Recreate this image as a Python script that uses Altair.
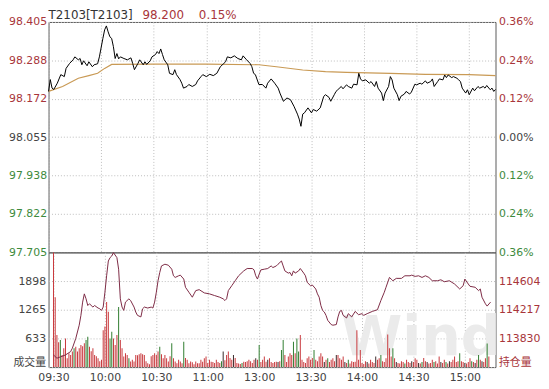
import altair as alt
import pandas as pd

# ---------------- data ----------------
TITLE_CODE = "T2103[T2103]"
LAST_PRICE = "98.200"
LAST_CHANGE = "0.15%"
PREV_SETTLE = 98.055

price_ticks = [97.705, 97.822, 97.938, 98.055, 98.172, 98.288, 98.405]
time_tick_pos = [0, 30, 60, 90, 120, 150, 180, 210, 240]
time_tick_labels = ["09:30", "10:00", "10:30", "11:00", "13:00", "13:30", "14:00", "14:30", "15:00"]
session_minutes = 255

# (minute index, price)
price_points = [
    (0, 98.194), (1, 98.230), (2, 98.204), (3, 98.200), (5, 98.219), (7, 98.245), (9, 98.239),
    (10, 98.264), (12, 98.279), (14, 98.290), (15, 98.299), (17, 98.290), (18, 98.294), (19, 98.275),
    (20, 98.287), (22, 98.272), (23, 98.284), (25, 98.269), (26, 98.275), (28, 98.278), (29, 98.299),
    (31, 98.355), (32, 98.381), (33, 98.393), (34, 98.375), (35, 98.360), (36, 98.355), (37, 98.330),
    (38, 98.294), (39, 98.309), (40, 98.293), (41, 98.299), (43, 98.294), (45, 98.290), (47, 98.296),
    (48, 98.279), (49, 98.260), (51, 98.279), (52, 98.290), (54, 98.275), (55, 98.284), (56, 98.276),
    (58, 98.287), (59, 98.299), (61, 98.306), (62, 98.315), (63, 98.309), (64, 98.323), (65, 98.306),
    (66, 98.290), (68, 98.275), (69, 98.249), (71, 98.245), (72, 98.260), (73, 98.245), (75, 98.230),
    (76, 98.219), (77, 98.204), (79, 98.209), (80, 98.215), (82, 98.209), (84, 98.215), (85, 98.226),
    (87, 98.239), (88, 98.245), (90, 98.239), (92, 98.246), (94, 98.242), (96, 98.249), (98, 98.269),
    (100, 98.279), (101, 98.284), (102, 98.299), (104, 98.296), (106, 98.302), (108, 98.294),
    (110, 98.290), (111, 98.302), (113, 98.290), (115, 98.279), (116, 98.269), (117, 98.249),
    (118, 98.245), (120, 98.215), (122, 98.215), (124, 98.204), (125, 98.219), (127, 98.232),
    (129, 98.219), (131, 98.204), (132, 98.189), (134, 98.164), (136, 98.174), (138, 98.169),
    (140, 98.149), (142, 98.125), (143, 98.110), (144, 98.088), (145, 98.125), (146, 98.129),
    (148, 98.144), (150, 98.129), (151, 98.139), (153, 98.134), (155, 98.144), (157, 98.179),
    (158, 98.184), (160, 98.176), (161, 98.164), (163, 98.184), (164, 98.194), (165, 98.199),
    (167, 98.209), (168, 98.202), (170, 98.214), (171, 98.209), (173, 98.204), (174, 98.216),
    (176, 98.214), (177, 98.249), (178, 98.232), (179, 98.226), (181, 98.229), (183, 98.219),
    (184, 98.224), (186, 98.209), (187, 98.224), (188, 98.204), (190, 98.189), (191, 98.166),
    (192, 98.189), (194, 98.209), (195, 98.239), (196, 98.229), (197, 98.204), (199, 98.184),
    (200, 98.166), (201, 98.179), (203, 98.186), (204, 98.194), (206, 98.186), (207, 98.192),
    (209, 98.216), (210, 98.214), (212, 98.219), (213, 98.216), (215, 98.226), (216, 98.219),
    (218, 98.224), (219, 98.232), (220, 98.209), (222, 98.224), (223, 98.232), (225, 98.229),
    (226, 98.244), (227, 98.236), (228, 98.244), (230, 98.236), (231, 98.239), (233, 98.234),
    (234, 98.229), (235, 98.224), (236, 98.204), (238, 98.189), (239, 98.199), (240, 98.184),
    (242, 98.204), (243, 98.196), (245, 98.209), (246, 98.204), (248, 98.209), (249, 98.204),
    (250, 98.212), (252, 98.199), (253, 98.204), (254, 98.194), (255, 98.200),
]

# (minute index, average price)
avg_points = [
    (0, 98.194), (8, 98.209), (17, 98.234), (23, 98.242), (28, 98.249), (32, 98.264), (36, 98.276),
    (60, 98.277), (90, 98.277), (120, 98.275), (130, 98.269), (145, 98.259), (158, 98.254),
    (170, 98.252), (195, 98.249), (215, 98.246), (240, 98.245), (255, 98.242),
]

# (minute index, open interest)
oi_points = [
    (0, 113607), (2, 113563), (4, 113580), (7, 113607), (10, 113652), (11, 113697), (13, 113830),
    (15, 114008), (16, 114141), (17, 114320), (18, 114431), (19, 114364), (20, 114274), (21, 114297),
    (23, 114253), (24, 114274), (26, 114240), (27, 114230), (28, 114208), (29, 114253), (30, 114453),
    (31, 114675), (32, 114875), (33, 114920), (34, 114942), (35, 114987), (37, 114920), (38, 114764),
    (39, 114364), (40, 114253), (41, 114208), (42, 114320), (44, 114364), (45, 114341), (47, 114253),
    (48, 114186), (49, 114141), (51, 114120), (52, 114230), (53, 114253), (55, 114240), (57, 114253),
    (58, 114240), (59, 114320), (60, 114453), (61, 114608), (62, 114720), (63, 114808), (65, 114831),
    (67, 114818), (69, 114764), (70, 114675), (71, 114653), (73, 114675), (74, 114684), (76, 114631),
    (77, 114520), (79, 114453), (81, 114386), (82, 114431), (83, 114475), (85, 114488), (88, 114444),
    (91, 114431), (94, 114408), (97, 114386), (99, 114364), (100, 114341), (101, 114364),
    (102, 114475), (104, 114541), (106, 114608), (108, 114675), (111, 114741), (113, 114773),
    (116, 114773), (117, 114755), (118, 114675), (119, 114631), (120, 114697), (121, 114755),
    (123, 114764), (125, 114773), (127, 114808), (128, 114786), (130, 114808), (131, 114831),
    (133, 114875), (134, 114808), (135, 114741), (137, 114711), (138, 114720), (139, 114675),
    (140, 114741), (141, 114711), (143, 114741), (144, 114773), (146, 114711), (147, 114675),
    (148, 114587), (150, 114541), (151, 114551), (153, 114497), (154, 114431), (155, 114386),
    (156, 114274), (157, 114208), (158, 114186), (159, 114141), (160, 114074), (162, 114017),
    (163, 114008), (165, 114017), (166, 114120), (167, 114194), (168, 114208), (169, 114141),
    (171, 114106), (172, 114164), (174, 114120), (176, 114194), (178, 114150), (180, 114164),
    (181, 114141), (183, 114164), (186, 114194), (189, 114217), (191, 114341), (193, 114453),
    (194, 114520), (196, 114653), (197, 114631), (198, 114608), (200, 114640), (203, 114640),
    (205, 114675), (208, 114675), (209, 114684), (211, 114667), (213, 114675), (215, 114653),
    (217, 114675), (219, 114653), (221, 114608), (224, 114608), (226, 114621), (228, 114595),
    (231, 114608), (234, 114564), (237, 114497), (239, 114541), (240, 114631), (242, 114564),
    (243, 114533), (246, 114520), (248, 114475), (249, 114497), (250, 114386), (252, 114297),
    (253, 114266), (255, 114320),
]

# volume per minute (minute 0 .. 254)
volume = [
    2531, 1543, 710, 550, 596, 269, 415, 633, 196, 306,
    269, 342, 415, 451, 342, 415, 487, 458, 524, 596,
    669, 451, 349, 415, 269, 240, 196, 131, 160, 815,
    895, 1434, 1222, 633, 778, 633, 487, 706, 1324, 596,
    415, 233, 306, 269, 196, 124, 160, 124, 269, 262,
    284, 306, 284, 269, 131, 87, 65, 240, 269, 306,
    269, 342, 451, 284, 196, 269, 196, 124, 240, 524,
    196, 124, 87, 160, 124, 87, 560, 200, 160, 87,
    124, 109, 65, 124, 87, 87, 160, 120, 196, 233,
    90, 160, 120, 110, 90, 160, 110, 90, 130, 342,
    150, 269, 342, 200, 160, 269, 200, 90, 80, 70,
    90, 120, 110, 130, 160, 130, 90, 160, 196, 160,
    487, 110, 160, 233, 120, 160, 196, 110, 90, 110,
    120, 110, 130, 378, 596, 269, 110, 233, 306, 269,
    560, 306, 633, 342, 706, 160, 110, 90, 196, 233,
    160, 200, 378, 160, 130, 233, 306, 233, 110, 160,
    196, 110, 160, 196, 130, 269, 269, 196, 160, 233,
    110, 90, 160, 80, 130, 110, 120, 815, 160, 378,
    90, 70, 130, 110, 80, 160, 110, 90, 233, 160,
    196, 269, 130, 110, 196, 720, 415, 233, 415, 196,
    110, 90, 80, 130, 110, 80, 160, 110, 90, 130,
    110, 196, 160, 90, 80, 110, 200, 130, 110, 80,
    90, 160, 110, 130, 80, 233, 110, 90, 160, 110,
    80, 130, 110, 160, 233, 110, 130, 306, 130, 110,
    90, 80, 110, 196, 130, 110, 90, 160, 269, 160,
    130, 110, 196, 520, 233,
]
green_bars = [4, 12, 19, 20, 33, 34, 38, 44, 62, 69, 76, 98, 110, 120, 133, 134, 140, 142, 143,
              152, 160, 172, 191, 198, 205, 215, 222, 229, 237, 244, 248, 253]
dark_bars = [99, 105, 118, 125, 131, 158, 165, 170, 183, 188, 200, 209, 213, 218, 226, 231,
             240, 246, 250]

vol_ticks = [0, 633, 1265, 1898]
vol_max = 2531
oi_ticks = [113443, 113830, 114217, 114604]
oi_max = 114991
VOL_LABEL = "成交量"
OI_LABEL = "持仓量"
WATERMARK = "Wind"

# ---------------- styling ----------------
RED = "#a8353a"
GREEN = "#3d8a3d"
GRAY = "#444444"
FONT = "DejaVu Sans, Noto Sans CJK SC"
W = 452
H_TOP = 233
H_BOT = 116

price_df = pd.DataFrame(price_points, columns=["m", "p"])
avg_df = pd.DataFrame(avg_points, columns=["m", "p"])
oi_df = pd.DataFrame(oi_points, columns=["m", "oi"])
vol_df = pd.DataFrame({
    "m": list(range(len(volume))),
    "v": volume,
    "dir": ["down" if i in green_bars else ("flat" if i in dark_bars else "up")
            for i in range(len(volume))],
})

xscale = alt.Scale(domain=[0, session_minutes], nice=False, zero=False)
label_js = "[" + ",".join(f"'{t}'" for t in time_tick_labels) + "]"

x_top = alt.X("m:Q", scale=xscale,
              axis=alt.Axis(values=time_tick_pos, labels=False, ticks=False, domain=False,
                            grid=True, title=None))
x_bot = alt.X("m:Q", scale=xscale,
              axis=alt.Axis(values=time_tick_pos, ticks=False, domain=False, grid=True,
                            title=None, labelFlush=False, labelColor=GRAY,
                            labelExpr=f"{label_js}[round(datum.value/30)]", labelPadding=5))

pscale = alt.Scale(domain=[price_ticks[0], price_ticks[-1]], nice=False, zero=False)
color_expr = (f"datum.value > {PREV_SETTLE + 0.001} ? '{RED}' : "
              f"(datum.value < {PREV_SETTLE - 0.001} ? '{GREEN}' : '{GRAY}')")

left_axis = alt.Axis(orient="left", values=price_ticks, format=".3f", title=None, grid=True,
                     labelFlush=False, labelColor={"expr": color_expr}, labelPadding=2)
right_axis = alt.Axis(orient="right", values=price_ticks, title=None, grid=False,
                      labelFlush=False, labelColor={"expr": color_expr},
                      labelExpr=f"format(abs(datum.value/{PREV_SETTLE}-1)*100, '.2f') + '%'")

avg_line = alt.Chart(avg_df).mark_line(color="#c99a55", strokeWidth=1.2).encode(
    x=x_top, y=alt.Y("p:Q", scale=pscale, axis=left_axis))
price_line = alt.Chart(price_df).mark_line(color="#000000", strokeWidth=1).encode(
    x=x_top, y=alt.Y("p:Q", scale=pscale, axis=right_axis))

TITLE_Y = -7
t1 = alt.Chart(pd.DataFrame({"t": [TITLE_CODE]})).mark_text(
    align="left", baseline="middle", font=FONT, fontSize=12, color="#333333"
).encode(text="t:N", x=alt.value(0), y=alt.value(TITLE_Y))
t2 = alt.Chart(pd.DataFrame({"t": [LAST_PRICE]})).mark_text(
    align="left", baseline="middle", font=FONT, fontSize=12, color=RED
).encode(text="t:N", x=alt.value(95), y=alt.value(TITLE_Y))
t3 = alt.Chart(pd.DataFrame({"t": [LAST_CHANGE]})).mark_text(
    align="left", baseline="middle", font=FONT, fontSize=12, color=RED
).encode(text="t:N", x=alt.value(152), y=alt.value(TITLE_Y))

top = alt.layer(avg_line, price_line, t1, t2, t3).resolve_axis(y="independent").properties(
    width=W, height=H_TOP)

wm = alt.Chart(pd.DataFrame({"t": [WATERMARK]})).mark_text(
    align="left", baseline="alphabetic", font="DejaVu Sans", fontWeight="bold", fontSize=56,
    color="#ebebeb"
).encode(text="t:N", x=alt.value(296), y=alt.value(104))

bars = alt.Chart(vol_df).mark_bar(size=1).encode(
    x=x_bot,
    y=alt.Y("v:Q", scale=alt.Scale(domain=[0, vol_max], nice=False),
            axis=alt.Axis(orient="left", values=vol_ticks, format="d", title=None, grid=True,
                          labelFlush=True, labelColor=GRAY,
                          labelExpr=f"datum.value == 0 ? '{VOL_LABEL}' : datum.label")),
    color=alt.Color("dir:N", scale=alt.Scale(domain=["up", "down", "flat"],
                                             range=["#c8383c", "#2f7d2f", "#3a2a2a"]),
                    legend=None),
)
oi_line = alt.Chart(oi_df).mark_line(color="#7d2a45", strokeWidth=1).encode(
    x=x_bot,
    y=alt.Y("oi:Q", scale=alt.Scale(domain=[oi_ticks[0], oi_max], nice=False, zero=False),
            axis=alt.Axis(orient="right", values=oi_ticks, format="d", title=None, grid=False,
                          labelFlush=True, labelColor=RED,
                          labelExpr=f"datum.value < {oi_ticks[1] - 100} ? '{OI_LABEL}' : datum.label")),
)

bottom = alt.layer(wm, bars, oi_line).resolve_scale(y="independent").properties(
    width=W, height=H_BOT)

chart = alt.vconcat(top, bottom, spacing=0, bounds="flush").properties(
    padding={"top": -2, "left": 0, "right": 0, "bottom": 0}, background="white"
).configure_view(
    stroke="#5a5a5a", strokeWidth=1
).configure_axis(
    labelFont=FONT, labelFontSize=11, ticks=False, domain=False,
    gridColor="#bdbdbd", gridDash=[1, 2], gridWidth=1, labelPadding=3
)

chart.save("out.html", embed_options={"renderer": "svg", "actions": False})
